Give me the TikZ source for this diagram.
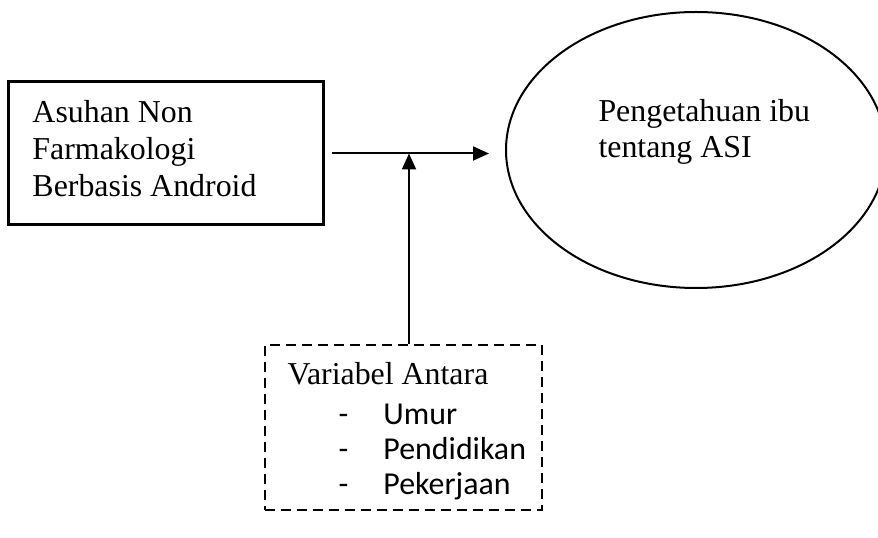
\documentclass[tikz,border=0pt]{standalone}
\usepackage{fontspec}
\setmainfont{Liberation Serif}
\newfontfamily\listfont{Carlito}
\usetikzlibrary{shapes.geometric,arrows.meta}

\newcommand{\listitem}[1]{\hspace*{20.4pt}\makebox[18pt][l]{-}#1}

\begin{document}
\begin{tikzpicture}[
  x=0.4pt, y=-0.4pt,
  font=\fontsize{12.75}{14.8}\selectfont,
  box/.style={draw, line width=1.2pt, minimum width=125.6pt, minimum height=57.2pt},
  oval/.style={draw, ellipse, line width=0.8pt, minimum width=152pt, minimum height=110.4pt, inner sep=0pt},
  varbox/.style={draw, dashed, dash pattern=on 4pt off 2.4pt, line width=0.8pt, minimum width=110.8pt, minimum height=66pt},
  txt/.style={inner sep=0pt, anchor=base west},
  arr/.style={-{Triangle[length=6.4pt, width=5.6pt]}, line width=0.8pt}
]
\useasboundingbox (0,0) rectangle (878,538);

\node[box] (asuhan) at (166,153.5) {};
\node[txt] (asuhantxt) at (32,123)
  {\begin{tabular}[t]{@{}l@{}}Asuhan Non\\Farmakologi\\Berbasis Android\end{tabular}};
\node[oval] (asi) at (696,150) {};
\node[txt, font=\fontsize{12.75}{14.4}\selectfont] (asitxt) at (598,122)
  {\begin{tabular}[t]{@{}l@{}}Pengetahuan ibu\\tentang ASI\end{tabular}};
\node[varbox] (var) at (403.5,427.5) {};
\node[txt, font=\fontsize{12.75}{13.8}\selectfont] (vartxt) at (287,385)
  {\begin{tabular}[t]{@{}l@{}}Variabel Antara\\[2.2pt]
  \listfont\listitem{Umur}\\
  \listfont\listitem{Pendidikan}\\
  \listfont\listitem{Pekerjaan}\end{tabular}};

\coordinate (join) at (409,153.5);

\draw[arr, shorten <=2.8pt, shorten >=6.4pt] (asuhan) -- (asuhan -| asi.west);
\draw[arr] (var.north -| join) -- (join);
\end{tikzpicture}
\end{document}
